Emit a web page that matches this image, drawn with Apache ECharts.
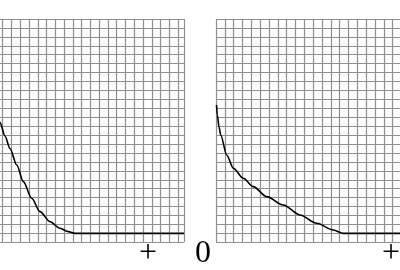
<!DOCTYPE html>
<html>
<head>
<meta charset="utf-8">
<script src="https://cdn.jsdelivr.net/npm/echarts@6/dist/echarts.min.js"></script>
<style>html,body{margin:0;padding:0;background:#fff}#c{width:400px;height:270px}</style>
</head>
<body>
<div id="c"></div>
<script>
// Left panel curve (grid units)
var leftX = [0.6, 0.69, 1.26, 1.83, 2.60, 3.35, 4.31, 5.25, 6.39, 7.53, 8.48, 9.24, 21.67];
var leftY = [13.6, 13.4, 11.9, 10.5, 8.66, 6.79, 4.93, 3.43, 2.31, 1.57, 1.19, 1.0, 1.0];
// Right panel curve (grid units)
var rightX = [0.06, 0.15, 0.34, 0.53, 1.21, 1.96, 3.09, 4.22, 5.74, 7.62, 9.51, 11.4, 13.28, 14.42, 21];
var rightY = [15.37, 14.25, 12.94, 12.02, 9.78, 8.29, 7.17, 6.23, 5.11, 4.18, 3.06, 2.13, 1.38, 1.0, 1.0];
// Text labels below the panels
var labelTexts = ['+', '0', '+'];

function pairs(xs, ys){ return xs.map(function(x,i){ return [x, ys[i]]; }); }

var gridLine = {show:true, lineStyle:{color:'#8f8f8f', width:1.2}};
function xAx(idx, max){
  return {type:'value', gridIndex:idx, min:0, max:max, interval:1,
    axisLine:{show:false}, axisTick:{show:false}, axisLabel:{show:false}, splitLine:gridLine};
}
function yAx(idx){
  return {type:'value', gridIndex:idx, min:0, max:25, interval:1,
    axisLine:{show:false}, axisTick:{show:false}, axisLabel:{show:false}, splitLine:gridLine};
}
var font = '32px "Liberation Serif", "DejaVu Serif", serif';

var chart = echarts.init(document.getElementById('c'));
chart.setOption({
  animation:false,
  backgroundColor:'#fff',
  grid:[
    {left:-6.07, top:19, width:21.67*8.77, height:223.3, outerBoundsMode:'none'},
    {left:216, top:19, width:21*8.83, height:223.3, outerBoundsMode:'none'}
  ],
  xAxis:[xAx(0, 21.67), xAx(1, 21)],
  yAxis:[yAx(0), yAx(1)],
  series:[
    {type:'line', xAxisIndex:0, yAxisIndex:0, data:pairs(leftX, leftY), smooth:0.3, smoothMonotone:'x', showSymbol:false,
     lineStyle:{color:'#000', width:1.6}},
    {type:'line', xAxisIndex:1, yAxisIndex:1, data:pairs(rightX, rightY), smooth:0.3, smoothMonotone:'x', showSymbol:false,
     lineStyle:{color:'#000', width:1.6}}
  ],
  graphic:[
    {type:'text', x:148, y:254, style:{text:labelTexts[0], font:font, fill:'#000', textAlign:'center', textVerticalAlign:'middle'}},
    {type:'text', x:203, y:254, style:{text:labelTexts[1], font:font, fill:'#000', textAlign:'center', textVerticalAlign:'middle'}},
    {type:'text', x:391, y:254, style:{text:labelTexts[2], font:font, fill:'#000', textAlign:'center', textVerticalAlign:'middle'}}
  ]
});
</script>
</body>
</html>
